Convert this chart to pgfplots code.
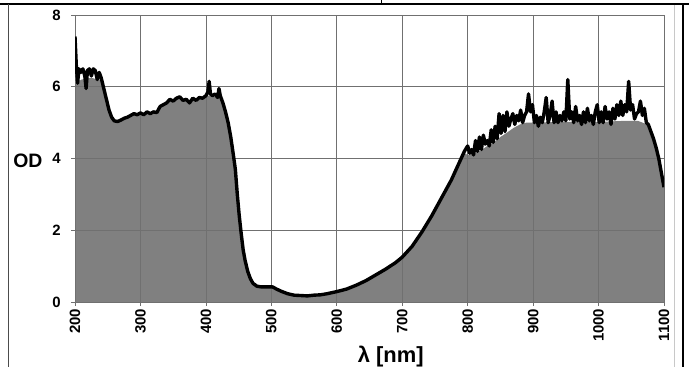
\documentclass[border=0pt]{standalone}
\usepackage{pgfplots}
\pgfplotsset{compat=1.18}
\usepackage{pgfplotstable}
\usepackage{fontspec}
\setmainfont{Liberation Sans}
\definecolor{fillgray}{RGB}{128,128,128}
\definecolor{gridgray}{RGB}{112,112,112}
\definecolor{framegray}{RGB}{200,200,200}

\pgfplotstableread{
x y
200 7.4
202 6.6
204 6.1
206 6.5
209 6.4
212 6.5
215 6.3
217 5.95
219 6.45
222 6.5
225 6.3
228 6.5
231 6.45
234 6.2
237 6.4
240 6.25
244 5.95
248 5.65
252 5.35
256 5.15
260 5.05
265 5.03
270 5.07
275 5.12
280 5.15
285 5.2
290 5.25
295 5.22
300 5.27
305 5.22
310 5.3
315 5.25
320 5.3
325 5.28
330 5.45
335 5.5
340 5.55
345 5.65
350 5.6
355 5.68
360 5.72
365 5.62
370 5.65
375 5.55
380 5.68
385 5.62
390 5.7
395 5.68
400 5.75
403 5.85
405 6.15
407 5.8
410 5.75
414 5.8
418 5.7
420 5.95
422 5.75
426 5.55
430 5.3
434 5.0
438 4.6
442 4.1
445 3.7
448 3.0
451 2.4
454 1.9
457 1.45
460 1.15
464 0.85
468 0.65
472 0.52
478 0.44
485 0.42
495 0.42
502 0.42
508 0.36
515 0.3
525 0.23
535 0.19
545 0.18
555 0.17
565 0.19
575 0.2
585 0.23
600 0.29
615 0.36
630 0.47
645 0.6
660 0.76
675 0.92
690 1.1
700 1.25
715 1.55
730 1.95
745 2.4
760 2.9
775 3.4
785 3.8
795 4.2
800 4.35
803 4.15
806 4.25
809 4.1
812 4.5
815 4.2
818 4.6
821 4.25
824 4.65
827 4.4
830 4.5
833 4.35
836 4.8
839 4.45
842 4.9
845 4.55
848 5.25
851 4.7
854 5.2
857 4.75
860 5.3
863 4.9
866 5.1
869 5.25
872 4.95
875 5.2
878 5.05
881 5.35
884 5.0
887 5.2
890 5.3
893 5.8
896 5.3
899 5.5
902 5.0
905 5.2
908 4.9
911 5.15
914 5.0
917 5.3
920 5.7
923 5.0
926 5.2
929 5.6
932 5.0
935 5.3
938 5.0
941 5.2
944 5.05
947 5.3
950 5.05
953 6.2
956 5.1
959 5.3
962 5.0
965 5.45
968 5.05
971 5.2
974 4.95
977 5.3
980 5.0
983 5.4
986 5.05
989 5.2
992 4.95
995 5.3
998 5.5
1001 5.0
1004 5.3
1007 5.0
1010 5.45
1013 5.1
1016 5.3
1019 4.95
1022 5.4
1025 5.1
1028 5.5
1031 5.2
1034 5.6
1037 5.2
1040 5.5
1043 5.3
1046 6.15
1049 5.35
1052 5.5
1055 5.1
1058 5.25
1061 5.3
1064 5.6
1067 5.2
1070 5.4
1073 5.0
1076 4.95
1080 4.75
1084 4.55
1088 4.3
1092 4.0
1096 3.6
1100 3.2
}\spectrum

\pgfplotstableread{
x y
200 6.1
210 6.2
225 6.25
235 6.2
240 6.2
244 5.95
248 5.65
252 5.35
256 5.15
260 5.05
265 5.03
270 5.07
275 5.12
280 5.15
285 5.2
290 5.25
295 5.22
300 5.27
305 5.22
310 5.3
315 5.25
320 5.3
325 5.28
330 5.45
335 5.5
340 5.55
345 5.65
350 5.6
355 5.68
360 5.72
365 5.62
370 5.65
375 5.55
380 5.68
385 5.62
390 5.7
395 5.68
400 5.75
410 5.75
418 5.7
422 5.75
426 5.55
430 5.3
434 5.0
438 4.6
442 4.1
445 3.7
448 3.0
451 2.4
454 1.9
457 1.45
460 1.15
464 0.85
468 0.65
472 0.52
478 0.44
485 0.42
495 0.42
502 0.42
508 0.36
515 0.3
525 0.23
535 0.19
545 0.18
555 0.17
565 0.19
575 0.2
585 0.23
600 0.29
615 0.36
630 0.47
645 0.6
660 0.76
675 0.92
690 1.1
700 1.25
715 1.55
730 1.95
745 2.4
760 2.9
775 3.4
785 3.8
795 4.15
800 4.1
810 4.15
820 4.22
830 4.35
840 4.45
850 4.6
860 4.72
870 4.85
880 4.95
890 5.0
900 5.0
950 5.02
1000 5.02
1040 5.05
1060 5.05
1070 4.98
1076 4.92
1080 4.75
1084 4.55
1088 4.3
1092 4.0
1096 3.6
1100 3.2
}\envelope

\begin{document}
\begin{tikzpicture}
\begin{axis}[
  set layers,
  at={(75bp,65bp)}, anchor=south west,
  scale only axis, width=589bp, height=287bp,
  xmin=200, xmax=1100, ymin=0, ymax=8,
  xtick={200,300,...,1100}, ytick={0,2,4,6,8},
  grid=major,
  major grid style={draw=gridgray, line width=0.7pt},
  axis line style={draw=gridgray, line width=0.7pt},
  tick style={draw=gridgray, line width=0.7pt},
  tick align=outside, major tick length=4bp,
  xtick pos=bottom, ytick pos=left,
  /pgf/number format/assume math mode=true,
  /pgf/number format/1000 sep={},
  every tick label/.append style={font=\fontsize{15}{15}\selectfont\bfseries},
  xticklabel style={rotate=90, anchor=east, inner sep=2.5bp},
  yticklabel style={anchor=east, inner sep=2bp},
  yticklabel shift=8bp,
  every axis y label/.style={at={(axis description cs:-0.08,0.492)}, anchor=center},
  ylabel={\fontsize{19.5}{19.5}\selectfont\bfseries OD},
  every axis x label/.style={at={(axis description cs:0.536,-0.2115)}, anchor=base},
  xlabel={\fontsize{22}{22}\selectfont\bfseries λ [nm]},
]
\addplot[on layer=axis background, draw=none, fill=fillgray] table[x=x,y=y] {\envelope} \closedcycle;
\addplot[black, line width=3.4pt, line join=round] table[x=x,y=y] {\spectrum};
\end{axis}
\draw[black, line width=2pt] (0,363bp) -- (689bp,363bp);
\draw[black, line width=0.8pt] (381bp,363bp) -- (381bp,367bp);
\draw[black, line width=2.2pt] (683bp,363bp) -- (683bp,0);
\draw[black!70, line width=0.6pt] (8bp,363bp) -- (8bp,0);
\draw[framegray, line width=0.6pt] (674bp,362bp) -- (674bp,0);
\pgfresetboundingbox
\useasboundingbox (0,0) rectangle (689bp,367bp);
\end{tikzpicture}
\end{document}
